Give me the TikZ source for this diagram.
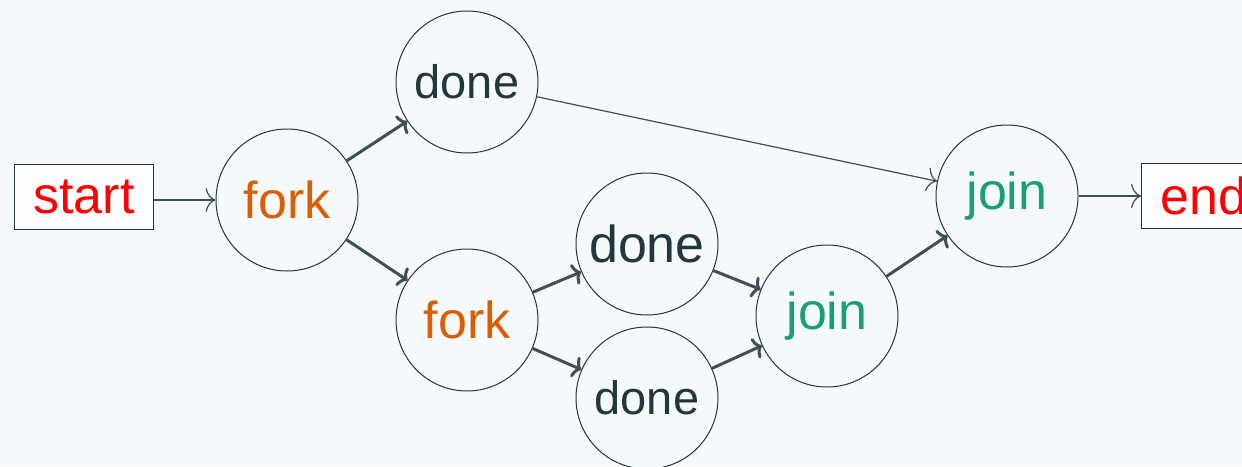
\documentclass[tikz,border=0pt]{standalone}
\usepackage{fontspec}
\setmainfont{Liberation Sans}
\usepackage{xcolor}
\usetikzlibrary{arrows.meta,positioning}
\definecolor{bg}{HTML}{F5F9FC}
\definecolor{ink}{HTML}{22363C}
\definecolor{edge}{HTML}{3E5056}
\definecolor{forkc}{HTML}{D95F02}
\definecolor{joinc}{HTML}{1B9E77}
\tikzset{st/.style={circle,draw=ink,line width=0.5pt,fill=bg,minimum size=71pt,inner sep=0pt,font=\fontsize{26}{30}\selectfont},
  box/.style={rectangle,draw=ink,line width=0.5pt,fill=white!60!bg,minimum height=32.5pt,inner xsep=9.5pt,text=red,font=\fontsize{26}{30}\selectfont},
  thin/.style={draw=edge,line width=0.6pt,-{To[length=5pt,width=12pt]}},
  thick/.style={draw=edge,line width=1.5pt,-{To[length=4pt,width=11pt]}}}
\begin{document}
\begin{tikzpicture}[x=0.5pt,y=-0.5pt]
    \fill[bg] (0,0) rectangle (1242,466);
    \clip (0,0) rectangle (1242,466);
    \node[box,anchor=west] (start) at (14,197) {start};
    \node[st,text=forkc] (forka) at (287,200) {fork};
    \node[st,text=ink,font=\fontsize{23.5}{28}\selectfont] (donea) at (467,82) {done};
    \node[st,text=forkc] (forkb) at (467,320) {fork};
    \node[st,text=ink] (doneb) at (647,244) {done};
    \node[st,text=ink,font=\fontsize{23.5}{28}\selectfont] (donec) at (647,398) {done};
    \node[st,text=joinc] (joina) at (827,316) {join};
    \node[st,text=joinc] (joinb) at (1007,196) {join};
    \node[box,anchor=west] (stop) at (1141,196) {end};

    \draw [thin] (start.east |- forka) to [] (forka);
    \draw [thick] (forka) to [] (donea);
    \draw [thick] (forka) to [] (forkb);
    \draw [thick] (forkb) to [] (doneb);
    \draw [thick] (forkb) to [] (donec);
    \draw [thick] (doneb) to [] (joina);
    \draw [thick] (donec) to [] (joina);
    \draw [thin] (donea) to [] (joinb);
    \draw [thick] (joina) to [] (joinb);
    \draw [thin] (joinb) to [] (stop);
\end{tikzpicture}
\end{document}
